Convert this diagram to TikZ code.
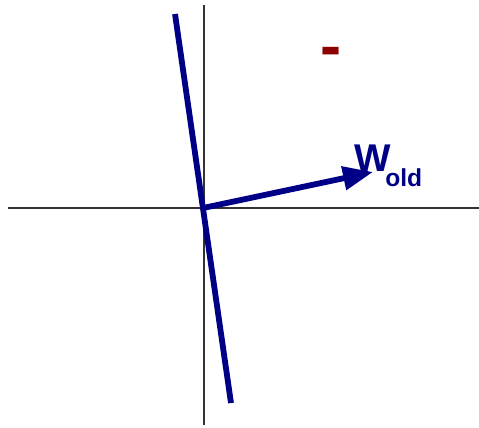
\documentclass[tikz,border=0pt]{standalone}
\usepackage{fontspec}
\setmainfont{Liberation Sans}
\usetikzlibrary{positioning,arrows.meta}
\definecolor{vecblue}{RGB}{0,0,135}
\definecolor{signred}{RGB}{140,0,0}

\begin{document}
\begin{tikzpicture}[x=0.02cm, y=-0.02cm,
  axis/.style={draw=black!80, line width=0.8pt},
  vec/.style={draw=vecblue, line width=3.3pt},
  arr/.style={vec, -{Triangle[length=0.6cm, width=0.46cm]}}]
\useasboundingbox (0,0) rectangle (479,427);
% axes
\coordinate (xl) at (8,208);
\coordinate (xr) at (479,208);
\coordinate (yt) at (204,5);
\coordinate (yb) at (204,425);
\draw[axis] (xl) -- (xr);
\draw[axis] (yt) -- (yb);
% boundary line and weight vector
\coordinate (o) at (203,208);
\coordinate (lt) at (175,14);
\coordinate (lb) at (231,403);
\draw[vec] (lt) -- (lb);
\coordinate (wtip) at (373,172);
\draw[arr] (o) -- (wtip);
\node[text=vecblue, font=\bfseries\fontsize{22}{24}\selectfont, inner sep=0pt] (w) at (373,158) {W};
\node[text=vecblue, font=\bfseries\fontsize{14}{16}\selectfont, inner sep=0pt, anchor=west] (old) at (385,178) {old};
% class sign
\node[text=signred, font=\bfseries\fontsize{36}{38}\selectfont, inner sep=0pt] (minus) at (331,57) {-};
\end{tikzpicture}
\end{document}
